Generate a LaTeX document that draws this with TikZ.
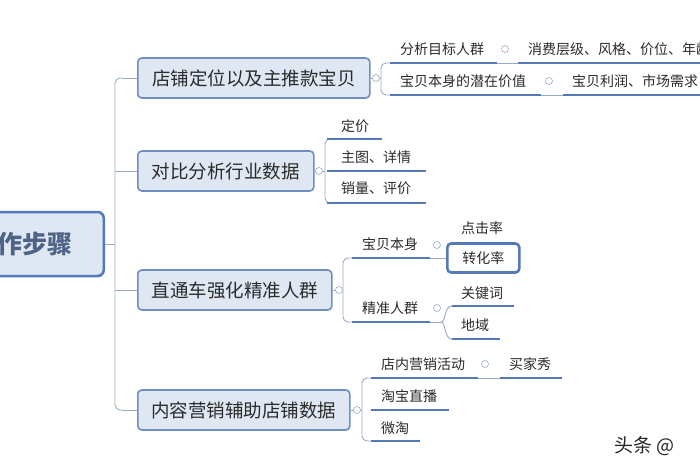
\documentclass[tikz,border=0pt]{standalone}
\usepackage{fontspec}
\setmainfont{Noto Sans CJK SC}
\begin{document}
\begin{tikzpicture}[x=1pt,y=-1pt,
  mainbox/.style={draw=boxborder,line width=1.6pt,fill=boxfill,rounded corners=4pt,minimum height=40pt,anchor=west,inner sep=0pt,font=\fontsize{18.5}{20}\selectfont,text=txt},
  lbl/.style={anchor=west,inner sep=0pt,font=\fontsize{14}{16}\selectfont,text=txt},
  uline/.style={draw=uln,line width=1.8pt},
  brk/.style={draw=brc,line width=0.9pt,rounded corners=5pt},
  tog/.style={draw=brc,circle,inner sep=0pt,minimum size=7pt,line width=0.6pt,fill=white}]
\definecolor{boxfill}{HTML}{DFE7F3}
\definecolor{boxborder}{HTML}{6F8FC0}
\definecolor{txt}{HTML}{2B2B2B}
\definecolor{uln}{HTML}{5379B8}
\definecolor{brc}{HTML}{9AAAC4}
\useasboundingbox (0,0) rectangle (700,470);
\clip (0,0) rectangle (700,470);
\fill[white] (0,0) rectangle (700,470);
% trunk
\draw[brk] (122,78) -- (115,78) -- (115,410) -- (122,410);
\draw[brk] (105,244) -- (115,244);
\draw[brk] (115,171) -- (137,171);
\draw[brk] (115,290) -- (137,290);
\draw[brk] (122,78) -- (137,78);
\draw[brk] (122,410) -- (137,410);
% root
\node[draw=uln,line width=2.5pt,fill=boxfill,rounded corners=6pt,minimum width=125pt,minimum height=64pt,anchor=east] (root) at (105,244) {};
\node[anchor=west,inner sep=0pt,font=\fontsize{25}{27}\selectfont\bfseries,text=boxborder!70!black] (roott) at (-3,244) {作步骤};
% main boxes
\node[mainbox,minimum width=232pt] (m1) at (137,78) {店铺定位以及主推款宝贝};
\node[mainbox,minimum width=176pt] (m2) at (137,171) {对比分析行业数据};
\node[mainbox,minimum width=194pt] (m3) at (137,290) {直通车强化精准人群};
\node[mainbox,minimum width=212pt] (m4) at (137,410) {内容营销辅助店铺数据};
% box1 children
\draw[brk] (m1.east) -- (381,78);
\draw[brk] (390,63) -- (381,63) -- (381,95) -- (390,95);
\node[tog] (t1) at (376,78) {};
\node[lbl] (a1) at (400,49) {分析目标人群};
\draw[uline] (390,63) -- (497,63);
\node[tog] (t11) at (505,49) {};
\node[lbl] (a11) at (528,49) {消费层级、风格、价位、年龄};
\draw[uline] (518,63) -- (700,63);
\draw[brk] (497,63) -- (518,63);
\node[lbl] (a2) at (400,81) {宝贝本身的潜在价值};
\draw[uline] (390,95) -- (541,95);
\node[tog] (t12) at (549,81) {};
\node[lbl] (a21) at (572,81) {宝贝利润、市场需求};
\draw[brk] (541,95) -- (563,95);
\draw[uline] (563,95) -- (700,95);
% box2 children
\draw[brk] (m2.east) -- (325,171);
\draw[brk] (332,139) -- (325,139) -- (325,203) -- (332,203);
\node[tog] (t2) at (319,171) {};
\node[lbl] (b1) at (341,126) {定价};
\draw[uline] (327,139) -- (382,139);
\node[lbl] (b2) at (341,157) {主图、详情};
\draw[uline] (327,171) -- (426,171);
\node[lbl] (b3) at (341,188) {销量、评价};
\draw[uline] (327,203) -- (426,203);
% box3 children
\draw[brk] (m3.east) -- (343,290);
\draw[brk] (352,258) -- (343,258) -- (343,322) -- (352,322);
\node[tog] (t3) at (339,290) {};
\node[lbl] (c1) at (362,244) {宝贝本身};
\draw[uline] (352,258) -- (430,258);
\node[tog] (t31) at (437,245) {};
\node[lbl] (c11) at (461,228) {点击率};
\node[draw=uln,line width=2.6pt,fill=white,rounded corners=4pt,minimum width=72pt,minimum height=29pt,anchor=west,inner sep=0pt,font=\fontsize{14}{16}\selectfont,text=txt] (c12) at (446,258) {转化率};
\draw[brk] (430,258) -- (446,258);
\node[lbl] (c2) at (362,308) {精准人群};
\draw[uline] (352,322) -- (430,322);
\node[tog] (t32) at (437,308) {};
\node[lbl] (c21) at (461,293) {关键词};
\node[lbl] (c22) at (461,325) {地域};
\draw[brk] (430,322) -- (441,322);
\draw[draw=brc,line width=0.9pt] (441,322) .. controls (446,322) and (444,306) .. (452,306);
\draw[draw=brc,line width=0.9pt] (441,322) .. controls (446,322) and (444,339) .. (452,339);
\draw[uline] (452,306) -- (514,306);
\draw[uline] (452,339) -- (500,339);
% box4 children
\draw[brk] (m4.east) -- (362,410);
\draw[brk] (371,378) -- (362,378) -- (362,441) -- (371,441);
\node[tog] (t4) at (357,410) {};
\node[lbl] (d1) at (381,364) {店内营销活动};
\draw[uline] (371,378) -- (478,378);
\node[tog] (t41) at (485,364) {};
\node[lbl] (d11) at (509,364) {买家秀};
\draw[brk] (478,378) -- (500,378);
\draw[uline] (500,378) -- (562,378);
\node[lbl] (d2) at (381,396) {淘宝直播};
\draw[uline] (371,410) -- (449,410);
\node[lbl] (d3) at (381,428) {微淘};
\draw[uline] (371,441) -- (420,441);
% watermark
\node[anchor=west,inner sep=0pt,font=\fontsize{19}{21}\selectfont,text=black!85] (wm) at (614,446) {头条 @};
\end{tikzpicture}
\end{document}
